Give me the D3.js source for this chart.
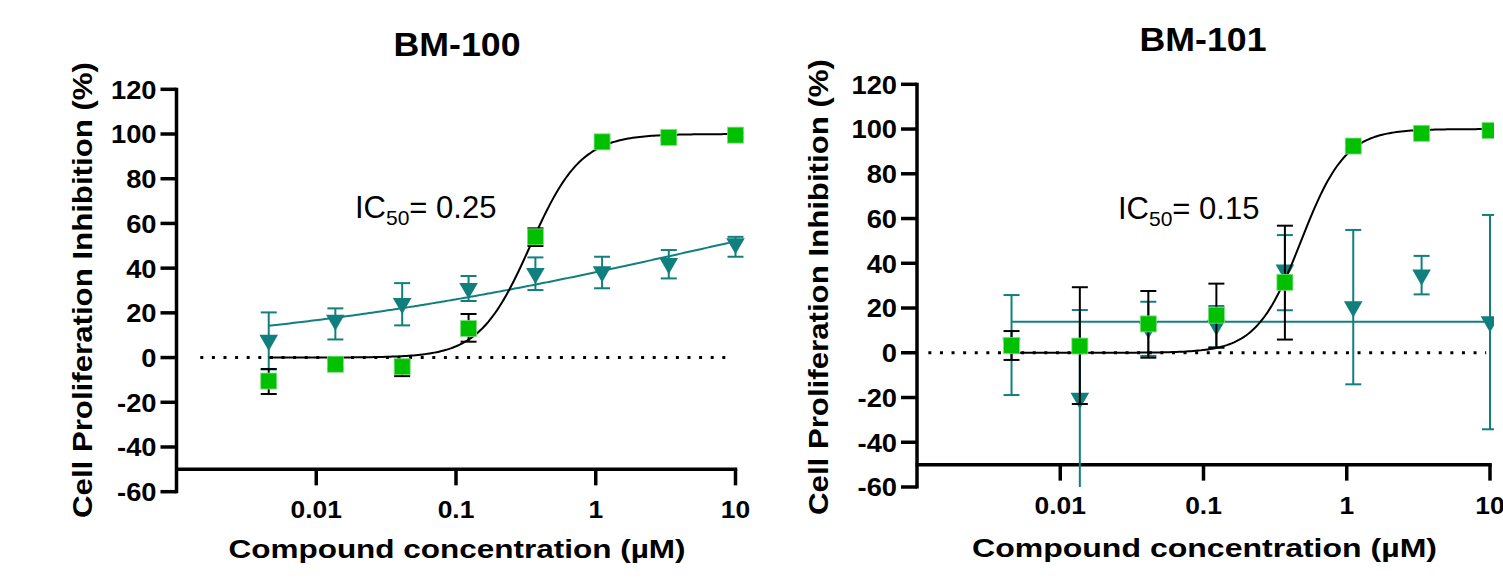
<!DOCTYPE html>
<html>
<head>
<meta charset="utf-8">
<script src="https://cdn.jsdelivr.net/npm/d3@7"></script>
<style>
  body { margin: 0; background: #fff; }
  svg { display: block; }
  text { font-family: "Liberation Sans", Arial, sans-serif; }
</style>
</head>
<body>
<svg id="chart" width="1503" height="579"></svg>
<script>
// concentrations (uM), 3-fold dilution series
var conc = [0.00457, 0.0137, 0.0412, 0.123, 0.370, 1.11, 3.33, 10];

var yTicks = [-60, -40, -20, 0, 20, 40, 60, 80, 100, 120];
var xTicks = [0.01, 0.1, 1, 10];
var xTickLabels = ["0.01", "0.1", "1", "10"];

// BM-100
var bm100Green   = [-10.5, -3, -4.1, 13, 54, 96.5, 98.5, 99.5];
var bm100GreenLo = [-16.3, -5, -8.3, 7.1, 49.9, 95, 97.5, 98.5];
var bm100GreenHi = [-5.1, -1, -1, 19.5, 57.8, 98, 99.5, 100.5];
var bm100Teal    = [7.8, 16.8, 24.2, 31, 37.7, 38.4, 42.1, 51];
var bm100TealLo  = [-5.3, 8.1, 14.4, 25.3, 30.2, 31, 35.4, 45.1];
var bm100TealHi  = [20.2, 22, 33.3, 36.5, 44.8, 45.1, 48.1, 54];

// BM-101
var bm101Green   = [3.3, 3, 12.9, 16.8, 31.5, 92.4, 98.1, 99.3];
var bm101GreenLo = [-3.2, -22.9, -2.2, 2.3, 5.9, 91, 97, 98];
var bm101GreenHi = [9.7, 29.3, 27.6, 30.9, 56.8, 94, 99, 100];
var bm101Teal    = [4, -20.3, 11, 12.4, 37, 20.6, 34.8, 13.9];
var bm101TealLo  = [-18.9, -75, -1.4, 2.4, 19, -14.1, 26.1, -34.2];
var bm101TealHi  = [25.8, 19.1, 22.8, 20.9, 52.6, 54.9, 43.3, 61.6];

// fitted 4PL curves: [bottom, top, ic50, hill]
var bm100GreenFit = [0, 100, 0.34, 2.4];
var bm100TealFit  = [0, 100, 7.2, 0.244];
var bm101GreenFit = [0, 100, 0.48, 2.8];
var bm101TealFit  = [13.9, 13.9, 1, 1];

var green = "#00c000", teal = "#127f7f";

var panels = [
  { title: "BM-100", ic50: "0.25", green: bm100Green, gLo: bm100GreenLo, gHi: bm100GreenHi,
    teal: bm100Teal, tLo: bm100TealLo, tHi: bm100TealHi, gFit: bm100GreenFit, tFit: bm100TealFit,
    x0: 176.5, x1: 735.5, yTop: 89.3, yBot: 491.7, titleX: 457, titleY: 56, icX: 355, icY: 218,
    xlabY: 558, xlabW: 457, ylabX: 92, ylabY: 290, tickY: 518, dots: [0.00148, 8.7], clip: null },
  { title: "BM-101", ic50: "0.15", green: bm101Green, gLo: bm101GreenLo, gHi: bm101GreenHi,
    teal: bm101Teal, tLo: bm101TealLo, tHi: bm101TealHi, gFit: bm101GreenFit, tFit: bm101TealFit,
    x0: 917, x1: 1490, yTop: 84.3, yBot: 487, titleX: 1203, titleY: 51, icX: 1118, icY: 219,
    xlabY: 557, xlabW: 465, ylabX: 828, ylabY: 287, tickY: 514, dots: [0.0012, 9.4], clip: 1494 }
];

var svg = d3.select("#chart");

function fourPL(p, x) {
  return p[0] + (p[1] - p[0]) / (1 + Math.pow(p[2] / x, p[3]));
}

panels.forEach(function (P, pi) {
  var x = d3.scaleLog().domain([0.001, 10]).range([P.x0, P.x1]);
  var y = d3.scaleLinear().domain([-60, 120]).range([P.yBot, P.yTop]);
  var g = svg.append("g");

  // title
  g.append("text").attr("x", P.titleX).attr("y", P.titleY)
    .attr("text-anchor", "middle").attr("font-size", 34).attr("font-weight", "bold")
    .attr("textLength", 127).attr("lengthAdjust", "spacingAndGlyphs")
    .text(P.title);

  // y axis
  g.append("line").attr("x1", P.x0).attr("x2", P.x0)
    .attr("y1", y(120) - 1.5).attr("y2", y(-60) + 1.5)
    .attr("stroke", "#000").attr("stroke-width", 3.5);
  g.selectAll(".yt").data(yTicks).enter().append("line")
    .attr("x1", P.x0 - 16).attr("x2", P.x0)
    .attr("y1", function (d) { return y(d); }).attr("y2", function (d) { return y(d); })
    .attr("stroke", "#000").attr("stroke-width", 3.5);
  g.selectAll(".yl").data(yTicks).enter().append("text")
    .attr("transform", function (d) { return "translate(" + (P.x0 - 20) + "," + y(d) + ") scale(1.05,1)"; })
    .attr("dy", "0.36em").attr("text-anchor", "end")
    .attr("font-size", 26).attr("font-weight", "bold")
    .text(function (d) { return d; });

  // x axis crosses at -50
  var ax = y(-50);
  g.append("line").attr("x1", P.x0 - 1.5).attr("x2", x(10) + 1.75)
    .attr("y1", ax).attr("y2", ax)
    .attr("stroke", "#000").attr("stroke-width", 3.5);
  g.selectAll(".xt").data(xTicks).enter().append("line")
    .attr("x1", function (d) { return x(d); }).attr("x2", function (d) { return x(d); })
    .attr("y1", ax).attr("y2", ax + 16)
    .attr("stroke", "#000").attr("stroke-width", 3.5);
  g.selectAll(".xl").data(xTicks).enter().append("text")
    .attr("transform", function (d) { return "translate(" + x(d) + "," + P.tickY + ") scale(1.1,1)"; })
    .attr("text-anchor", "middle").attr("font-size", 24).attr("font-weight", "bold")
    .text(function (d, i) { return xTickLabels[i]; });

  // axis titles
  g.append("text").attr("x", (P.x0 + P.x1) / 2 + 1).attr("y", P.xlabY)
    .attr("text-anchor", "middle").attr("font-size", 26).attr("font-weight", "bold")
    .attr("textLength", P.xlabW).attr("lengthAdjust", "spacingAndGlyphs")
    .text("Compound concentration (µM)");
  g.append("text")
    .attr("transform", "translate(" + P.ylabX + "," + P.ylabY + ") rotate(-90)")
    .attr("text-anchor", "middle").attr("font-size", 28).attr("font-weight", "bold")
    .attr("textLength", 456).attr("lengthAdjust", "spacingAndGlyphs")
    .text("Cell Proliferation Inhibition (%)");

  // IC50 note
  var ic = g.append("text").attr("x", P.icX).attr("y", P.icY)
    .attr("font-family", "'Open Sans', sans-serif").attr("font-size", 31);
  ic.append("tspan").text("IC");
  ic.append("tspan").attr("font-size", 21).attr("dy", 7).text("50");
  ic.append("tspan").attr("dy", -7).text("= " + P.ic50);

  // dotted zero line
  g.append("line").attr("x1", x(P.dots[0])).attr("x2", x(P.dots[1]))
    .attr("y1", y(0)).attr("y2", y(0))
    .attr("stroke", "#000").attr("stroke-width", 3)
    .attr("stroke-dasharray", "3,8.6");

  // data layer, optionally clipped at right
  var dg = g.append("g");
  if (P.clip) {
    svg.append("clipPath").attr("id", "clip" + pi).append("rect")
      .attr("x", 0).attr("y", 0).attr("width", P.clip).attr("height", 579);
    dg.attr("clip-path", "url(#clip" + pi + ")");
  }

  var curveX = d3.range(0, 201).map(function (i) {
    return Math.pow(10, Math.log10(conc[0]) + i / 200 * (Math.log10(10) - Math.log10(conc[0])));
  });
  var line = d3.line().x(function (d) { return x(d[0]); }).y(function (d) { return y(d[1]); });

  function errBars(vals, lo, hi, color) {
    var lowY = function (i) { return y(Math.max(lo[i], -60)); };
    dg.selectAll(null).data(conc).enter().append("line")
      .attr("x1", function (d) { return x(d); }).attr("x2", function (d) { return x(d); })
      .attr("y1", function (d, i) { return y(hi[i]); })
      .attr("y2", function (d, i) { return lowY(i); })
      .attr("stroke", color).attr("stroke-width", 2);
    dg.selectAll(null).data(conc).enter().append("line")
      .attr("x1", function (d) { return x(d) - 8; }).attr("x2", function (d) { return x(d) + 8; })
      .attr("y1", function (d, i) { return y(hi[i]); }).attr("y2", function (d, i) { return y(hi[i]); })
      .attr("stroke", color).attr("stroke-width", 2);
    dg.selectAll(null).data(conc.filter(function (d, i) { return lo[i] >= -60; })).enter().append("line")
      .attr("x1", function (d) { return x(d) - 8; }).attr("x2", function (d) { return x(d) + 8; })
      .attr("y1", function (d) { return y(lo[conc.indexOf(d)]); })
      .attr("y2", function (d) { return y(lo[conc.indexOf(d)]); })
      .attr("stroke", color).attr("stroke-width", 2);
  }

  // teal series
  errBars(P.teal, P.tLo, P.tHi, teal);
  dg.append("path").datum(curveX.map(function (c) { return [c, fourPL(P.tFit, c)]; }))
    .attr("d", line).attr("fill", "none").attr("stroke", teal).attr("stroke-width", 2);
  dg.selectAll(null).data(conc).enter().append("path")
    .attr("d", d3.symbol().type(d3.symbolTriangle).size(150))
    .attr("transform", function (d, i) { return "translate(" + x(d) + "," + y(P.teal[i]) + ") rotate(180)"; })
    .attr("fill", teal);

  // green series
  errBars(P.green, P.gLo, P.gHi, "#000");
  dg.append("path").datum(curveX.map(function (c) { return [c, fourPL(P.gFit, c)]; }))
    .attr("d", line).attr("fill", "none").attr("stroke", "#000").attr("stroke-width", 2);
  dg.selectAll(null).data(conc).enter().append("rect")
    .attr("x", function (d) { return x(d) - 8; })
    .attr("y", function (d, i) { return y(P.green[i]) - 8; })
    .attr("width", 16).attr("height", 16)
    .attr("fill", green).attr("stroke", "#7fe07f").attr("stroke-width", 0.8);
});
</script>
</body>
</html>
